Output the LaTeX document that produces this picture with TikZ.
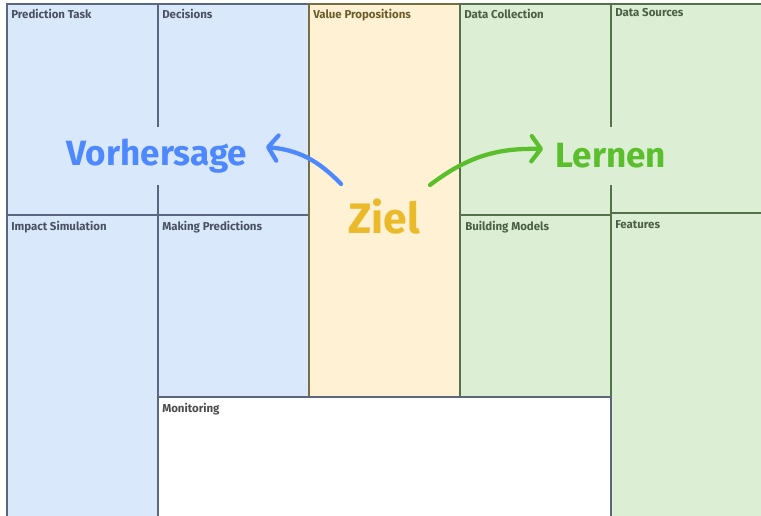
\documentclass[tikz,border=0pt]{standalone}
\usepackage{fontspec}
\setmainfont{Fira Sans}
\usetikzlibrary{arrows.meta}
\definecolor{bluefill}{HTML}{DAE8FC}
\definecolor{blueline}{HTML}{5B6680}
\definecolor{bluetext}{HTML}{4A5166}
\definecolor{yelfill}{HTML}{FFF2D4}
\definecolor{yelline}{HTML}{75703F}
\definecolor{yeltext}{HTML}{6B5D2B}
\definecolor{grnfill}{HTML}{DCEFD4}
\definecolor{grnline}{HTML}{56704B}
\definecolor{grntext}{HTML}{4B5F44}
\definecolor{montext}{HTML}{4D4D4D}
\definecolor{vblue}{HTML}{4D88FF}
\definecolor{lgreen}{HTML}{5BBE2C}
\definecolor{zgold}{HTML}{EBBA2A}
\tikzset{
  cellblue/.style={fill=bluefill, draw=blueline, line width=0.9pt},
  cellyel/.style={fill=yelfill, draw=yelline, line width=0.9pt},
  cellgrn/.style={fill=grnfill, draw=grnline, line width=0.9pt},
  cellwhite/.style={fill=white, draw=blueline, line width=0.9pt},
  lbl/.style={anchor=north west, inner sep=0pt, font=\bfseries\fontsize{8.6}{10}\selectfont},
  big/.style={font=\bfseries\fontsize{26.3}{30}\selectfont, inner sep=2pt, minimum height=43pt},
  arr/.style={line width=3.2pt, line cap=round, -{Straight Barb[length=7pt,width=19pt,round]}}
}
\begin{document}
\begin{tikzpicture}[x=0.75pt,y=-0.75pt]
\useasboundingbox (0,0) rectangle (761,516);
\clip (0,0) rectangle (761,516);
\fill[white] (0,0) rectangle (761,516);
% cells
\draw[cellblue] (7,4) rectangle (158,215);
\draw[cellblue] (7,215) rectangle (158,530);
\draw[cellblue] (158,4) rectangle (309,215);
\draw[cellblue] (158,215) rectangle (309,397);
\draw[cellyel] (309,4) rectangle (460,397);
\draw[cellgrn] (460,4) rectangle (611,215);
\draw[cellgrn] (460,215) rectangle (611,397);
\draw[cellgrn] (611,4) rectangle (780,213);
\draw[cellgrn] (611,213) rectangle (780,530);
\draw[cellwhite] (158,397) rectangle (611,530);
% labels
\node[lbl, text=bluetext] (pt) at (11,9) {Prediction Task};
\node[lbl, text=bluetext] (de) at (162,9) {Decisions};
\node[lbl, text=yeltext] (vp) at (313,9) {Value Propositions};
\node[lbl, text=grntext] (dc) at (464,9) {Data Collection};
\node[lbl, text=grntext] (ds) at (615,8) {Data Sources};
\node[lbl, text=bluetext] (is) at (11,221) {Impact Simulation};
\node[lbl, text=bluetext] (mp) at (162,221) {Making Predictions};
\node[lbl, text=grntext] (bm) at (465,221) {Building Models};
\node[lbl, text=grntext] (fe) at (615,220) {Features};
\node[lbl, text=montext] (mo) at (162,403) {Monitoring};
% big words
\node[big, fill=bluefill, text=vblue] (vor) at (157,156) {Vorhersage};
\node[big, fill=grnfill, text=lgreen] (ler) at (611,156) {Lernen};
\node[font=\bfseries\fontsize{32}{36}\selectfont, text=zgold, inner sep=0pt] (ziel) at (384,217) {Ziel};
% arrows
\coordinate (bs) at (341,184);
\coordinate (bt) at (266,147);
\coordinate (gs) at (430,185);
\coordinate (gt) at (543,149);
\draw[arr, vblue] (bs) .. controls (318,160) and (298,150) .. (bt);
\draw[arr, lgreen] (gs) .. controls (468,156) and (498,148) .. (gt);
\end{tikzpicture}
\end{document}
